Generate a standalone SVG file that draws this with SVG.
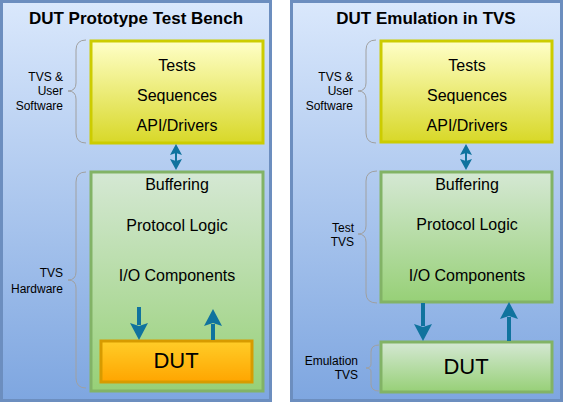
<svg xmlns="http://www.w3.org/2000/svg" width="564" height="404" viewBox="0 0 564 404">
<style>
.panel{stroke:#6c8ebf;stroke-width:3;fill:url(#gBlue)}
.yel{stroke:#cccc00;stroke-width:3;fill:url(#gYel)}
.grn{stroke:#82b366;stroke-width:3;fill:url(#gGrn)}
.org{stroke:#d79b00;stroke-width:3;fill:url(#gOrg)}
.title{font-family:"Liberation Sans",Arial,sans-serif;font-weight:bold;font-size:17px;text-anchor:middle;fill:#000}
.t{font-family:"Liberation Sans",Arial,sans-serif;font-size:16px;text-anchor:middle;fill:#000}
.dut{font-family:"Liberation Sans",Arial,sans-serif;font-size:22px;text-anchor:middle;fill:#000}
.lbl{font-family:"Liberation Sans",Arial,sans-serif;font-size:12px;text-anchor:end;fill:#000}
.brace{fill:none;stroke:#a0a0a0;stroke-width:1}
.arr{stroke:#10739e;fill:none}
</style>
<defs>
<linearGradient id="gBlue" x1="0" y1="0" x2="0" y2="1"><stop offset="0" stop-color="#dae8fc"/><stop offset="1" stop-color="#7ea6e0"/></linearGradient>
<linearGradient id="gYel" x1="0" y1="0" x2="0" y2="1"><stop offset="0" stop-color="#ffffc8"/><stop offset="1" stop-color="#d8d828"/></linearGradient>
<linearGradient id="gGrn" x1="0" y1="0" x2="0" y2="1"><stop offset="0" stop-color="#d5e8d4"/><stop offset="1" stop-color="#97d077"/></linearGradient>
<linearGradient id="gOrg" x1="0" y1="0" x2="0" y2="1"><stop offset="0" stop-color="#ffcd28"/><stop offset="1" stop-color="#ffa500"/></linearGradient>
<marker id="hBig" markerUnits="userSpaceOnUse" markerWidth="17" markerHeight="18" viewBox="0 0 17 18" refX="2" refY="9" orient="auto-start-reverse"><path d="M0,0 L17,9 L0,18 L3,9 Z" fill="#10739e"/></marker>
<marker id="hSm" markerUnits="userSpaceOnUse" markerWidth="11" markerHeight="12" viewBox="0 0 11 12" refX="2" refY="6" orient="auto-start-reverse"><path d="M0,0 L11,6 L0,12 L2,6 Z" fill="#10739e"/></marker>
</defs>

<g id="panel-left">
<rect class="panel" x="1.5" y="1.5" width="269" height="399"/>
<text class="title" x="136" y="24">DUT Prototype Test Bench</text>
</g>
<g id="panel-right">
<rect class="panel" x="291.5" y="1.5" width="270" height="399"/>
<text class="title" x="426" y="24">DUT Emulation in TVS</text>
</g>

<g id="sw-left">
<rect class="yel" x="91" y="41" width="172" height="102"/>
<text class="t" x="177" y="71">Tests</text>
<text class="t" x="177" y="101">Sequences</text>
<text class="t" x="177" y="131">API/Drivers</text>
</g>
<g id="hw-left">
<rect class="grn" x="91" y="172" width="172" height="219"/>
<text class="t" x="177" y="190">Buffering</text>
<text class="t" x="177" y="231">Protocol Logic</text>
<text class="t" x="177" y="281">I/O Components</text>
</g>
<g id="dut-left">
<rect class="org" x="101" y="341" width="151" height="41"/>
<text class="dut" x="176" y="368">DUT</text>
</g>

<g id="sw-right">
<rect class="yel" x="381" y="41" width="171" height="101"/>
<text class="t" x="467" y="71">Tests</text>
<text class="t" x="467" y="101">Sequences</text>
<text class="t" x="467" y="131">API/Drivers</text>
</g>
<g id="hw-right">
<rect class="grn" x="381" y="172" width="171" height="130"/>
<text class="t" x="467" y="190">Buffering</text>
<text class="t" x="467" y="230">Protocol Logic</text>
<text class="t" x="467" y="281">I/O Components</text>
</g>
<g id="dut-right">
<rect class="grn" x="381" y="342" width="171" height="50"/>
<text class="dut" x="466" y="374">DUT</text>
</g>

<g id="braces">
<path class="brace" d="M86,40 Q76,40 76,50 L76,83 Q76,91 68,91 Q76,91 76,99 L76,133 Q76,143 86,143"/>
<text class="lbl" x="63" y="81">TVS &amp;</text>
<text class="lbl" x="63" y="95">User</text>
<text class="lbl" x="63" y="110">Software</text>
<path class="brace" d="M86,172 Q76,172 76,182 L76,272 Q76,280 68,280 Q76,280 76,288 L76,378 Q76,388 86,388"/>
<text class="lbl" x="63" y="277">TVS</text>
<text class="lbl" x="63" y="293">Hardware</text>

<path class="brace" d="M376,40 Q366,40 366,50 L366,83 Q366,91 358,91 Q366,91 366,99 L366,133 Q366,143 376,143"/>
<text class="lbl" x="353" y="81">TVS &amp;</text>
<text class="lbl" x="353" y="95">User</text>
<text class="lbl" x="353" y="110">Software</text>
<path class="brace" d="M377,171 Q366,171 366,181 L366,226 Q366,234 358,234 Q366,234 366,242 L366,293 Q366,303 377,303"/>
<text class="lbl" x="354" y="232">Test</text>
<text class="lbl" x="354" y="246">TVS</text>
<path class="brace" d="M379,345 Q371,345 371,352 L371,364 Q371,368 366,368 Q371,368 371,372 L371,384 Q371,391 379,391"/>
<text class="lbl" x="358" y="365">Emulation</text>
<text class="lbl" x="358" y="379">TVS</text>
</g>

<g id="connectors">
<line class="arr" stroke-width="2" x1="176" y1="153" x2="176" y2="161" marker-start="url(#hSm)" marker-end="url(#hSm)"/>
<line class="arr" stroke-width="4" x1="139" y1="307" x2="139" y2="325" marker-end="url(#hBig)"/>
<line class="arr" stroke-width="4" x1="213" y1="340" x2="213" y2="324" marker-end="url(#hBig)"/>
<line class="arr" stroke-width="2" x1="466" y1="153" x2="466" y2="161" marker-start="url(#hSm)" marker-end="url(#hSm)"/>
<line class="arr" stroke-width="4" x1="423" y1="303" x2="423" y2="326" marker-end="url(#hBig)"/>
<line class="arr" stroke-width="4" x1="509" y1="341" x2="509" y2="317" marker-end="url(#hBig)"/>
</g>
</svg>
